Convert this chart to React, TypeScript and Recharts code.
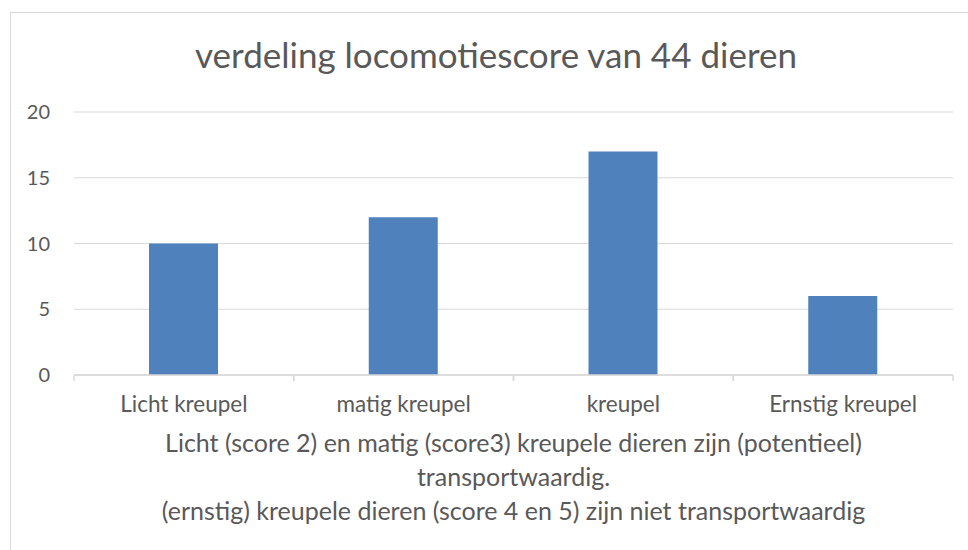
import React from "react";
import { BarChart, Bar, XAxis, YAxis, CartesianGrid, Label } from "recharts";

const categories = ["Licht kreupel", "matig kreupel", "kreupel", "Ernstig kreupel"];
const counts = [10, 12, 17, 6];
const yTicks = [0, 5, 10, 15, 20];
const title = "verdeling locomotiescore van 44 dieren";
const footerLines = [
  "Licht (score 2) en matig (score3) kreupele dieren zijn (potentieel)",
  "transportwaardig.",
  "(ernstig) kreupele dieren (score 4 en 5) zijn niet transportwaardig",
];

const data = categories.map((name, i) => ({ name, value: counts[i] }));

const FONT = "Lato, 'Open Sans', sans-serif";
const TEXT = "#595959";
const GRID = "#d9d9d9";
const TICK_MARGIN = 21;

// category label plus tick marks on both band edges (Excel style)
function CategoryTick(props: any) {
  const { x, y, payload } = props;
  const half = payload?.offset || 0;
  const axisY = y - TICK_MARGIN;
  return (
    <g>
      <line x1={x - half} x2={x - half} y1={axisY} y2={axisY + 6} stroke={GRID} strokeWidth={1.5} />
      <line x1={x + half} x2={x + half} y1={axisY} y2={axisY + 6} stroke={GRID} strokeWidth={1.5} />
      <text x={x} y={y} dy="0.71em" textAnchor="middle" fill={TEXT} fontFamily={FONT} fontSize={22.5}>
        {payload.value}
      </text>
    </g>
  );
}

function FooterLabel(props: any) {
  const { viewBox } = props;
  const cx = viewBox.x + viewBox.width / 2;
  return (
    <text x={cx} y={452} textAnchor="middle" fill={TEXT} fontFamily={FONT} fontSize={25}>
      {footerLines.map((line, i) => (
        <tspan key={i} x={cx} y={452 + i * 34}>
          {line}
        </tspan>
      ))}
    </text>
  );
}

export default function App() {
  return (
    <div
      style={{
        position: "fixed",
        left: 0,
        top: 0,
        width: 968,
        height: 550,
        overflow: "hidden",
        background: "#fff",
      }}
    >
      {/* chart frame, runs off the right and bottom edges */}
      <div
        style={{
          position: "absolute",
          left: 10,
          top: 12,
          width: 1000,
          height: 600,
          border: `1.5px solid ${GRID}`,
        }}
      />
      <div style={{ position: "absolute", left: 0, top: 0 }}>
        <BarChart
          width={968}
          height={550}
          data={data}
          margin={{ top: 112, right: 15, bottom: 135, left: 14 }}
        >
          <CartesianGrid horizontal vertical={false} stroke={GRID} strokeWidth={1.2} />
          <YAxis
            type="number"
            domain={[0, 20]}
            ticks={yTicks}
            width={60}
            axisLine={false}
            tickLine={false}
            tickSize={6}
            tickMargin={18}
            tick={{ fill: TEXT, fontSize: 20, fontFamily: FONT }}
          />
          <XAxis
            dataKey="name"
            height={40}
            axisLine={{ stroke: GRID, strokeWidth: 1.5 }}
            tickLine={false}
            tickSize={0}
            tickMargin={TICK_MARGIN}
            interval={0}
            tick={<CategoryTick />}
          >
            <Label content={<FooterLabel />} />
          </XAxis>
          <Bar dataKey="value" fill="#4f81bd" barSize={69} isAnimationActive={false} />
        </BarChart>
      </div>
      <svg
        width={968}
        height={100}
        style={{ position: "absolute", left: 0, top: 0, pointerEvents: "none" }}
      >
        <text x={496} y={68} textAnchor="middle" fill={TEXT} fontFamily={FONT} fontSize={35}>
          {title}
        </text>
      </svg>
    </div>
  );
}
